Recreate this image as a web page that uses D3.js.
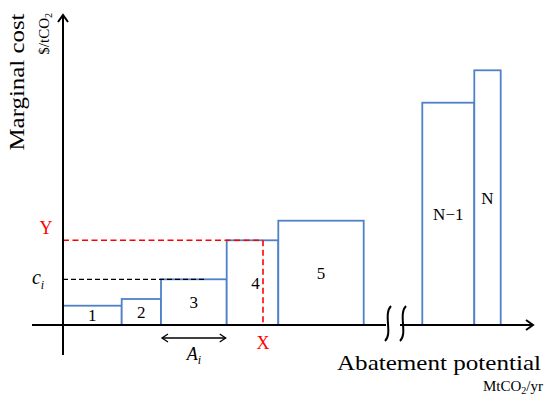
<!DOCTYPE html>
<html><head><meta charset="utf-8">
<script src="https://cdn.jsdelivr.net/npm/d3@7/dist/d3.min.js"></script>
<style>body{margin:0;background:#fff}svg{display:block}text{font-family:'Liberation Serif','DejaVu Serif','Times New Roman',serif}</style>
</head><body>
<script>
// Data (arbitrary units)
const labels = ["1","2","3","4","5","N\u22121","N"];
const starts = [0, 5.87, 9.8, 16.37, 21.53, 35.93, 41.13];
const widths = [5.87, 3.93, 6.57, 5.16, 8.54, 5.2, 2.64];
const costs  = [1.93, 2.6, 4.57, 8.47, 10.43, 22.23, 25.47];
const markX = 20.0, markY = 8.47, ciValue = 4.57, ciIndex = 2;

const W = 550, H = 407;
const svg = d3.select("body").append("svg").attr("width", W).attr("height", H);
const x = d3.scaleLinear().domain([0, 47]).range([63, 533]);
const y = d3.scaleLinear().domain([0, 31]).range([325, 15]);
const blue = "#4f81c7";

// bars
const bars = labels.map((l,i)=>({l, s:starts[i], w:widths[i], c:costs[i]}));
svg.selectAll("rect.bar").data(bars).join("rect")
  .attr("x", d=>x(d.s)).attr("y", d=>y(d.c))
  .attr("width", d=>x(d.s+d.w)-x(d.s)).attr("height", d=>y(0)-y(d.c))
  .attr("fill","#fff").attr("stroke", blue).attr("stroke-width",1.8);
svg.selectAll("text.bl").data(bars).join("text")
  .attr("x", d=>x(d.s+d.w/2)+(d.l==="4"?3:0)).attr("y", d=>(y(d.c)+y(0))/2+6)
  .attr("text-anchor","middle").attr("font-size",17)
  .text(d=>d.l);

// dashed lines
svg.append("line").attr("x1",x(0)).attr("x2",x(starts[ciIndex]+widths[ciIndex]*0.67))
  .attr("y1",y(ciValue)).attr("y2",y(ciValue))
  .attr("stroke","#000").attr("stroke-width",1.3).attr("stroke-dasharray","5,3");
svg.append("line").attr("x1",x(0)).attr("x2",x(markX)).attr("y1",y(markY)).attr("y2",y(markY))
  .attr("stroke","#f00").attr("stroke-width",1.6).attr("stroke-dasharray","6,3.5");
svg.append("line").attr("x1",x(markX)).attr("x2",x(markX)).attr("y1",y(markY)).attr("y2",y(0))
  .attr("stroke","#f00").attr("stroke-width",1.6).attr("stroke-dasharray","6,3.5");

// axes
const ax = svg.append("g").attr("stroke","#000").attr("stroke-width",2).attr("fill","none");
ax.append("line").attr("x1",x(0)).attr("x2",x(0)).attr("y1",355).attr("y2",15);
ax.append("path").attr("d",`M${x(0)-5},22 L${x(0)},15 L${x(0)+5},22`);
ax.append("line").attr("x1",32).attr("x2",386).attr("y1",y(0)).attr("y2",y(0));
ax.append("line").attr("x1",400).attr("x2",532).attr("y1",y(0)).attr("y2",y(0));
ax.append("path").attr("d",`M526,${y(0)-5} L533,${y(0)} L526,${y(0)+5}`);
// break squiggles
[388, 403].forEach(bx=>{
  ax.append("path").attr("d",`M${bx+3},306 C${bx-5},314 ${bx+5},334 ${bx-3},341`);
});

// A_i arrow
const ay = 338;
const g2 = svg.append("g").attr("stroke","#000").attr("stroke-width",1.3).attr("fill","none");
g2.append("line").attr("x1",x(starts[2])+1).attr("x2",x(starts[2]+widths[2])-1).attr("y1",ay).attr("y2",ay);
g2.append("path").attr("d",`M${x(starts[2])+7},${ay-4} L${x(starts[2])+1},${ay} L${x(starts[2])+7},${ay+4}`);
g2.append("path").attr("d",`M${x(starts[2]+widths[2])-7},${ay-4} L${x(starts[2]+widths[2])-1},${ay} L${x(starts[2]+widths[2])-7},${ay+4}`);
const at = svg.append("text").attr("x",x(starts[2]+widths[2]/2)).attr("y",360).attr("text-anchor","middle")
  .attr("font-size",18).attr("font-style","italic");
at.append("tspan").text("A");
at.append("tspan").attr("font-size",12).attr("dy",4).text("i");

// markers
svg.append("text").attr("x",46).attr("y",y(markY)-6).attr("text-anchor","middle")
  .attr("font-size",18).attr("fill","#f00").text("Y");
svg.append("text").attr("x",x(markX)).attr("y",349).attr("text-anchor","middle")
  .attr("font-size",18).attr("fill","#f00").text("X");
const ct = svg.append("text").attr("x",38).attr("y",y(ciValue)+5).attr("text-anchor","middle")
  .attr("font-size",20).attr("font-style","italic");
ct.append("tspan").text("c");
ct.append("tspan").attr("font-size",12).attr("dy",5).text("i");

// axis titles
const yt = svg.append("g").attr("transform","translate(24,82) rotate(-90)");
yt.append("text").attr("text-anchor","middle").attr("font-size",22)
  .attr("textLength",137).attr("lengthAdjust","spacingAndGlyphs").text("Marginal cost");
const yu = svg.append("text").attr("transform","translate(49,13) rotate(-90)").attr("text-anchor","end")
  .attr("font-size",15);
yu.append("tspan").text("$/tCO");
yu.append("tspan").attr("font-size",10).attr("dy",3).text("2");

svg.append("text").attr("x",541).attr("y",370).attr("text-anchor","end")
  .attr("font-size",22)
  .attr("textLength",204).attr("lengthAdjust","spacingAndGlyphs").text("Abatement potential");
const xu = svg.append("text").attr("x",543).attr("y",391).attr("text-anchor","end")
  .attr("font-size",15);
xu.append("tspan").text("MtCO");
xu.append("tspan").attr("font-size",10).attr("dy",3).text("2");
xu.append("tspan").attr("dy",-3).text("/yr");
</script>
</body></html>
